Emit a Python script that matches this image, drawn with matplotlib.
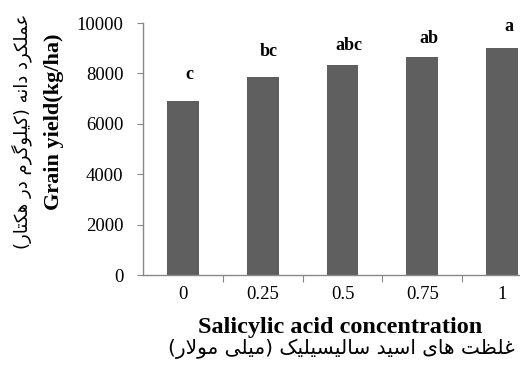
#!/usr/bin/env python3
"""Grain yield vs salicylic acid concentration (bar chart, Excel style)."""

import matplotlib
matplotlib.use("Agg")
import matplotlib.pyplot as plt

# ----------------------
# Data
# ----------------------
concentrations = ["0", "0.25", "0.5", "0.75", "1"]
grain_yield = [6890, 7860, 8320, 8640, 9000]
group_letters = ["c", "bc", "abc", "ab", "a"]
letter_y = [7950, 8870, 9100, 9380, 9860]
y_ticks = [0, 2000, 4000, 6000, 8000, 10000]

ylabel_en = "Grain yield(kg/ha)"
ylabel_fa = "عملکرد دانه (کیلوگرم در هکتار)"
xlabel_en = "Salicylic acid concentration"
xlabel_fa = "غلظت های اسید سالیسیلیک (میلی مولار)"

# ----------------------
# Minimal Persian shaping (matplotlib has no bidi / joining support)
# forms: isolated, final, initial, medial (None -> letter does not join forward)
# ----------------------
FORMS = {
    "ا": (0xFE8D, 0xFE8E, None, None),
    "ت": (0xFE95, 0xFE96, 0xFE97, 0xFE98),
    "د": (0xFEA9, 0xFEAA, None, None),
    "ر": (0xFEAD, 0xFEAE, None, None),
    "س": (0xFEB1, 0xFEB2, 0xFEB3, 0xFEB4),
    "ظ": (0xFEC5, 0xFEC6, 0xFEC7, 0xFEC8),
    "ع": (0xFEC9, 0xFECA, 0xFECB, 0xFECC),
    "غ": (0xFECD, 0xFECE, 0xFECF, 0xFED0),
    "ل": (0xFEDD, 0xFEDE, 0xFEDF, 0xFEE0),
    "م": (0xFEE1, 0xFEE2, 0xFEE3, 0xFEE4),
    "ن": (0xFEE5, 0xFEE6, 0xFEE7, 0xFEE8),
    "ه": (0xFEE9, 0xFEEA, 0xFEEB, 0xFEEC),
    "و": (0xFEED, 0xFEEE, None, None),
    "ی": (0xFBFC, 0xFBFD, 0xFBFE, 0xFBFF),
    "ک": (0xFB8E, 0xFB8F, 0xFB90, 0xFB91),
    "گ": (0xFB92, 0xFB93, 0xFB94, 0xFB95),
}
MIRROR = {"(": ")", ")": "("}


def _joins_forward(ch):
    return ch in FORMS and FORMS[ch][2] is not None


def shape_fa(text):
    out = []
    i = 0
    n = len(text)
    while i < n:
        ch = text[i]
        if ch not in FORMS:
            out.append(MIRROR.get(ch, ch))
            i += 1
            continue
        prev_joins = i > 0 and _joins_forward(text[i - 1])
        # lam-alef ligature
        if ch == "ل" and i + 1 < n and text[i + 1] == "ا":
            out.append(chr(0xFEFC if prev_joins else 0xFEFB))
            i += 2
            continue
        next_joins = _joins_forward(ch) and i + 1 < n and text[i + 1] in FORMS
        iso, fin, ini, med = FORMS[ch]
        if prev_joins and next_joins:
            cp = med
        elif prev_joins:
            cp = fin
        elif next_joins:
            cp = ini
        else:
            cp = iso
        out.append(chr(cp))
        i += 1
    return "".join(reversed(out))


# ----------------------
# Plot
# ----------------------
plt.rcParams["font.family"] = ["Liberation Serif", "DejaVu Serif"]

fig = plt.figure(figsize=(5.2, 3.72), dpi=100)
ax = fig.add_axes([143 / 520, 97 / 372, (542 - 143) / 520, (349 - 97) / 372])

x = list(range(len(concentrations)))
ax.bar(x, grain_yield, width=0.4, color="#5f5f5f", zorder=2)

for xi, lab, ly in zip(x, group_letters, letter_y):
    ax.text(xi + 0.08, ly, lab, ha="center", va="center",
            fontsize=13, fontweight="bold")

ax.set_xlim(-0.5, len(concentrations) - 0.5)
ax.set_ylim(0, 10000)
ax.set_yticks(y_ticks)
ax.set_yticklabels([str(v) for v in y_ticks], fontsize=13.5)

# Excel-like category axis: tick marks between categories, labels centred
ax.set_xticks([i + 0.5 for i in x[:-1]])
ax.set_xticklabels([])
ax.set_xticks(x, minor=True)
ax.set_xticklabels(concentrations, minor=True, fontsize=13.5)
ax.tick_params(axis="x", which="major", length=5, color="#888888", direction="out")
ax.tick_params(axis="x", which="minor", length=0, pad=8)
ax.tick_params(axis="y", length=4, color="#888888", pad=10)

for side in ("top", "right"):
    ax.spines[side].set_visible(False)
for side in ("left", "bottom"):
    ax.spines[side].set_color("#888888")
    ax.spines[side].set_linewidth(1.0)

# axis titles (English bold + Persian below / beside)
fig.text(340 / 520, 1 - 327 / 372, xlabel_en, ha="center", va="center",
         fontsize=17.5, fontweight="bold")
fig.text(341 / 520, 1 - 349 / 372, shape_fa(xlabel_fa), ha="center", va="center",
         fontsize=14.5, family=["DejaVu Sans"])
fig.text(54 / 520, 1 - 122 / 372, ylabel_en, ha="center", va="center",
         rotation=90, fontsize=16, fontweight="bold")
fig.text(22 / 520, 1 - 131 / 372, shape_fa(ylabel_fa), ha="center", va="center",
         rotation=90, fontsize=13, family=["DejaVu Sans"])

fig.savefig("out.png", dpi=100)
